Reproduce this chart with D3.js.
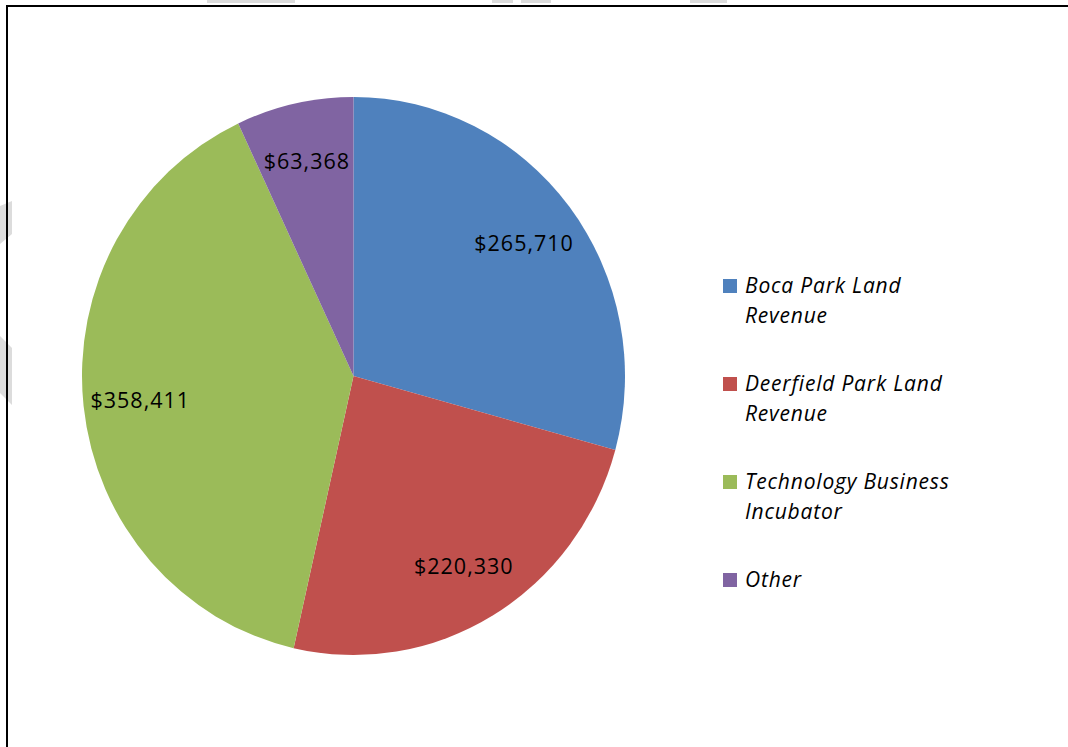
<!DOCTYPE html>
<html><head><meta charset="utf-8">
<script src="https://cdn.jsdelivr.net/npm/d3@7/dist/d3.min.js"></script>
<style>body{margin:0;background:#fff}svg{display:block}</style>
</head><body>
<svg id="c" width="1068" height="747"></svg>
<script>
const categories = ["Boca Park Land Revenue","Deerfield Park Land Revenue","Technology Business Incubator","Other"];
const legendLines = [["Boca Park Land","Revenue"],["Deerfield Park Land","Revenue"],["Technology Business","Incubator"],["Other"]];
const values = [265710, 220330, 358411, 63368];
const labels = ["$265,710","$220,330","$358,411","$63,368"];
const colors = ["#4F81BD","#C0504D","#9BBB59","#8064A2"];

const svg = d3.select("#c");
// faint scan artifacts
const art = svg.append("g").attr("fill","#dcdcdc");
[[207,0,88,3],[492,0,21,3],[521,0,30,3],[690,0,37,3]].forEach(r=>art.append("rect").attr("x",r[0]).attr("y",r[1]).attr("width",r[2]).attr("height",r[3]));
art.append("path").attr("d","M0,206 L12,201 L12,234 L0,244 Z");
art.append("path").attr("d","M0,336 L12,348 L12,405 L0,393 Z");

// frame
svg.append("path").attr("d","M7,747 L7,6 L1068,6").attr("fill","none").attr("stroke","#000").attr("stroke-width",2);

const cx = 353.5, cy = 376, rx = 271.5, sy = 279/271.5;
const pie = d3.pie().sort(null).value(d=>d)(values);
const arc = d3.arc().innerRadius(0).outerRadius(rx);
const labelArc = d3.arc().innerRadius(rx*0.79).outerRadius(rx*0.79);
const g = svg.append("g").attr("transform",`translate(${cx},${cy}) scale(1,${sy})`);
g.selectAll("path").data(pie).join("path").attr("d",arc).attr("fill",(d,i)=>colors[i]);

const lg = svg.append("g").attr("transform",`translate(${cx},${cy})`);
lg.selectAll("text").data(pie).join("text")
  .attr("x",d=>labelArc.centroid(d)[0])
  .attr("y",d=>labelArc.centroid(d)[1]*sy)
  .attr("text-anchor","middle").attr("dominant-baseline","central")
  .attr("font-family","'Open Sans', sans-serif").attr("font-size",21.5).attr("letter-spacing",1).attr("fill","#000")
  .text((d,i)=>labels[i]);

// legend
const leg = svg.append("g").attr("transform","translate(723,0)");
categories.forEach((c,i)=>{
  const y0 = 279 + i*98;
  leg.append("rect").attr("x",0).attr("y",y0).attr("width",14).attr("height",14).attr("fill",colors[i]);
  const t = leg.append("text").attr("x",22).attr("y",y0+14)
    .attr("font-family","'Open Sans', sans-serif").attr("font-style","italic").attr("font-size",21).attr("letter-spacing",0.8).attr("fill","#000");
  legendLines[i].forEach((ln,j)=>t.append("tspan").attr("x",22).attr("dy",j?30:0).text(ln));
});
</script>
</body></html>
